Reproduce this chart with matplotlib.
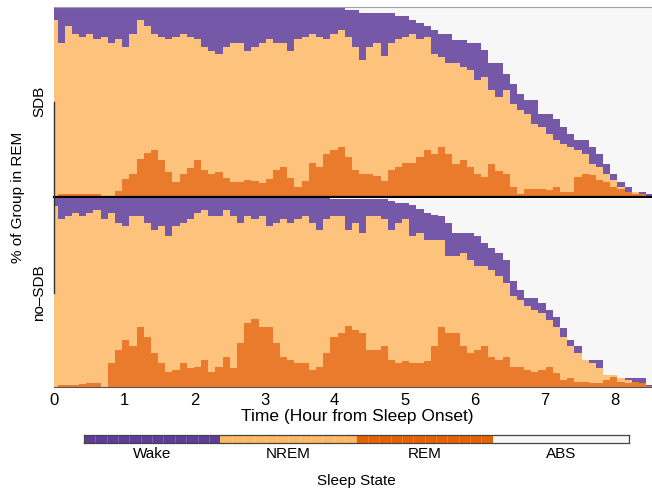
import numpy as np
import matplotlib.pyplot as plt
from matplotlib.lines import Line2D

plt.rcParams['font.family'] = ['Liberation Sans', 'DejaVu Sans']

# values every ~6 minutes (percent of group, stacked from the bottom)
step_h = 0.1023
hours = np.arange(84) * step_h

# SDB group
sdb_rem = [0, 1.5, 1.5, 1.5, 1.5, 1.5, 1.5, 0.5, 0.5, 3, 9, 12, 20, 23, 24.5, 19, 13, 7.5, 12, 15,
           19, 14, 12, 13, 10, 7.5, 7.5, 8.5,
           8, 7, 9, 14, 15.5, 10, 5, 8, 17.5, 15.5, 22.5, 24.5, 26, 21, 14, 12, 12, 11, 8, 14, 15.5, 17.5,
           17.5, 21, 24.5,
           22.6, 26.1, 22.6, 17.3, 19, 15.5, 12, 10.2, 17.3, 13.7, 12, 4.9, 1.4, 4, 4, 4, 3.2, 4.9, 2.3, 2.3,
           10.2, 12, 11.1, 8.5, 7.6, 4.9, 4, 2.3, 1.4, 1.4, 0.5]
sdb_rem_nrem = [93, 81, 90, 86, 84, 86, 83, 84, 81, 83, 79, 86, 93, 90, 86, 84, 83, 84, 86, 84,
                83, 79, 77, 75, 79, 81, 81, 77,
                79, 81, 83, 81, 81, 77, 83, 84, 86, 84, 83, 86, 88, 84, 79, 72, 79, 81, 74, 81, 83, 84,
                86, 83, 84,
                75, 73.7, 70.2, 70.2, 68.4, 66.7, 61.4, 63.1, 56.1, 52.6, 56.1, 49, 45.5, 43.7, 38.5, 36.7,
                33.2, 29.6, 27.9, 26.1, 24.3, 22.6, 17.3, 15.5, 12, 8.5, 4.9, 2.3, 2.3, 1.4, 0.5]
sdb_recorded = [100] * 41 + [98.4, 98.4, 96.7, 96.7, 96.7, 96.7, 96.7, 95, 95, 93, 91.5, 90, 88, 86, 86,
                             82.5, 82.5, 80.8, 80.8, 77.2, 70.2, 70.2, 64.9, 59.6, 54.3, 50.8, 50.8, 43.7,
                             43.7, 41.1, 36.7, 33.2, 29.6, 29.6, 26.1, 22.6, 17.3, 12, 7.6, 4.9, 2.3, 2.3, 1.4]

# no-SDB group
nosdb_rem = [0, 1, 1, 1, 1.5, 2, 2, 0, 12.5, 19.6, 24.9, 21.4, 31.9, 26.6, 17.8, 12.5, 8.1, 9, 12.5, 9.8,
             10.7, 14.3, 8.1, 10.7, 16, 9.8, 23.1, 33.7,
             36, 31.9, 31.9, 23.1, 16, 14.3, 12.5, 12.5, 9, 10.7, 17.8, 26.6, 28.4, 32, 30, 28.4, 19.6, 19.6,
             21.4, 14.3, 12.5, 13.7, 12.5, 12.5, 13.7,
             21.4, 31.9, 28.4, 28.4, 21.4, 17.8, 19.6, 21.4, 16, 14.3, 16, 10.7, 10.7, 9, 8.1, 9, 10.7, 7.2,
             3.7, 4.5, 2.8, 2.8, 1.9, 1.9, 3.7, 5.4, 2.8, 1.9, 2.8, 1.9, 0.5]
nosdb_rem_nrem = [95.4, 88.4, 90, 91.8, 90, 91.8, 93.6, 88.4, 91.8, 86.6, 84.8, 90, 90, 86.6, 83, 84.8,
                  79.5, 84.8, 86.6, 88.4, 91.8, 93.6, 90, 90, 93.6, 90, 86.6, 90,
                  88.4, 90, 84.8, 86.6, 88.4, 86.6, 88.4, 90, 86.6, 83, 88.4, 90, 90, 83, 86.6, 81.3, 90,
                  90, 88.4, 83, 86.6, 88.4, 79.5, 81.3, 77.8,
                  77.8, 77.8, 69, 69, 70.7, 67.2, 63.7, 63.7, 61.9, 58.4, 54.9, 47.8, 46, 42.5, 40.7, 39,
                  35.4, 31.9, 26.6, 21.4, 17.8, 14.3, 12.5, 9.8, 6.3, 6.3, 5.4, 3.7, 2.8, 1.9, 0.5]
nosdb_recorded = [100] * 39 + [99] * 8 + [98, 97, 97, 96, 94, 92,
                                          91, 90, 86.6, 81.3, 81.3, 81.3, 79.5, 76, 73.3, 70.7, 67.2, 56,
                                          51.3, 46.9, 46.9, 44.3, 40.7, 37.2, 31, 25, 21.4, 14.3, 14.3,
                                          14.3, 6.3, 6.3, 4.5, 4.5, 4.5, 4.5, 1]

states = ['Wake', 'NREM', 'REM', 'ABS']
key_colors = ['#5e3c99', '#fdb863', '#e66101', '#f7f7f7']
fill_colors = {'REM': '#ea7a2c', 'NREM': '#fdc27c', 'Wake': '#7658a8', 'ABS': '#f7f7f7'}

W, H = 652, 491
fig = plt.figure(figsize=(W / 100, H / 100), dpi=100)


def box(x0, y0, x1, y1):
    return [x0 / W, 1 - y1 / H, (x1 - x0) / W, (y1 - y0) / H]


def draw_panel(ax, rem, rem_nrem, recorded):
    rem = np.asarray(rem, float)
    rn = np.asarray(rem_nrem, float)
    rec = np.asarray(recorded, float)
    layers = [('REM', np.zeros_like(rem), rem), ('NREM', rem, rn),
              ('Wake', rn, rec), ('ABS', rec, np.full_like(rec, 100.0))]
    for name, lo, hi in layers:
        ax.bar(hours, hi - lo, bottom=lo, width=step_h, color=fill_colors[name], linewidth=0)
    ax.set_xlim(0, (W - 54) / 70.16)
    ax.set_ylim(0, 100)
    ax.set_yticks([])
    ax.spines['left'].set_visible(False)
    ax.spines['right'].set_visible(False)


ax_top = fig.add_axes(box(54, 7, 652, 196.5))
ax_bot = fig.add_axes(box(54, 197.5, 652, 387))
draw_panel(ax_top, sdb_rem, sdb_rem_nrem, sdb_recorded)
draw_panel(ax_bot, nosdb_rem, nosdb_rem_nrem, nosdb_recorded)

ax_top.set_xticks([])
ax_top.spines['top'].set_color('#a0a0a0')
ax_top.spines['bottom'].set_color('black')
ax_top.spines['bottom'].set_linewidth(1.6)
ax_bot.spines['top'].set_visible(False)
ax_bot.spines['bottom'].set_color('#555555')
ax_bot.set_xticks(range(9))
ax_bot.tick_params(axis='x', length=0, pad=4, labelsize=12)

# y axis line between the two group ticks
fig.add_artist(Line2D([54 / W, 54 / W], [1 - 101.5 / H, 1 - 292.5 / H], color='#333333', lw=1))
fig.text(39 / W, 1 - 101.5 / H, 'SDB', rotation=90, ha='center', va='center', fontsize=11)
fig.text(39 / W, 1 - 292.5 / H, 'no\u2013SDB', rotation=90, ha='center', va='center', fontsize=11)
fig.text(18 / W, 1 - 197 / H, '% of Group in REM', rotation=90, ha='center', va='center', fontsize=11)
fig.text(357 / W, 1 - 416 / H, 'Time (Hour from Sleep Onset)', ha='center', va='center', fontsize=12.5)

# colour key
ax_key = fig.add_axes(box(84, 435, 629, 443))
ax_key.bar(range(len(states)), 1, width=1, color=key_colors, linewidth=0)
for i in range(len(states) - 1):
    ax_key.vlines(np.linspace(i - 0.5, i + 0.5, 13)[1:-1], 0, 1, color='white', lw=0.5, alpha=0.25)
ax_key.set_xlim(-0.5, len(states) - 0.5)
ax_key.set_ylim(0, 1)
ax_key.set_xticks([])
ax_key.set_yticks([])
for s in ax_key.spines.values():
    s.set_color('#444444')
    s.set_linewidth(0.9)
for i, name in enumerate(states):
    fig.text((152 + 136.3 * i) / W, 1 - 454 / H, name, ha='center', va='center', fontsize=11)
fig.text(356 / W, 1 - 481 / H, 'Sleep State', ha='center', va='center', fontsize=11)

fig.savefig('out.png', dpi=100)
